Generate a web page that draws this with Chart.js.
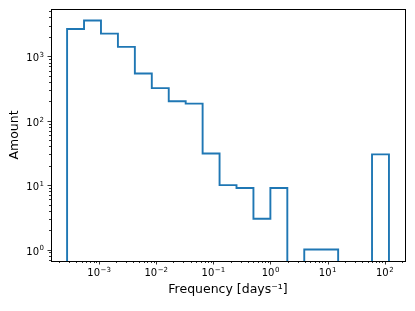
<!DOCTYPE html>
<html>
<head>
<meta charset="utf-8">
<script src="https://cdn.jsdelivr.net/npm/chart.js@4.4.1/dist/chart.umd.min.js"></script>
<style>
  html, body { margin: 0; padding: 0; background: #fff; }
  #chart { display: block; }
</style>
</head>
<body>
<canvas id="chart" width="415" height="311"></canvas>
<script>
// Histogram bin edges (days^-1), log spaced
const binEdges = [
  2.754e-4, 5.452e-4, 1.079e-3, 2.136e-3, 4.227e-3, 8.366e-3, 1.656e-2,
  3.278e-2, 6.486e-2, 0.1284, 0.2541, 0.5029, 0.9954, 1.970, 3.899,
  7.718, 15.28, 30.23, 59.84, 118.4,
];

// Counts per bin
const binCounts = [
  2650, 3600, 2250, 1400, 540, 320, 200, 184, 31, 10, 9, 3, 9, 0, 1, 1, 0, 0, 30,
];

// Major ticks: value and exponent label
const xMajorTicks = [1e-3, 1e-2, 1e-1, 1e0, 1e1, 1e2];
const xTickExps = ["−3", "−2", "−1", "0", "1", "2"];
const yMajorTicks = [1e0, 1e1, 1e2, 1e3];
const yTickExps = ["0", "1", "2", "3"];

// Axis limits
const X_MIN = 1.44e-4;
const X_MAX = 226;
const Y_MIN = 0.664;
const Y_MAX = 5420;

const FONT = "DejaVu Sans";

// Step outline of the histogram, zero bins drop below the axis
function stepPoints() {
  const floor = Y_MIN / 100;
  const pts = [{ x: binEdges[0], y: floor }];
  binCounts.forEach((c, i) => {
    const y = c > 0 ? c : floor;
    pts.push({ x: binEdges[i], y: y });
    pts.push({ x: binEdges[i + 1], y: y });
  });
  pts.push({ x: binEdges[binEdges.length - 1], y: floor });
  return pts;
}

function minorValues(min, max) {
  const out = [];
  for (let e = Math.floor(Math.log10(min)); e <= Math.ceil(Math.log10(max)); e++) {
    for (let m = 2; m <= 9; m++) {
      const v = m * Math.pow(10, e);
      if (v >= min && v <= max) out.push(v);
    }
  }
  return out;
}

// draw "10" with a raised exponent; align: 'center' or 'right'
function drawPow(ctx, exp, x, baseline, align) {
  ctx.font = `10px "${FONT}"`;
  const wBase = ctx.measureText("10").width;
  ctx.font = `7px "${FONT}"`;
  const wExp = ctx.measureText(exp).width;
  const total = wBase + 0.5 + wExp;
  const x0 = align === "center" ? x - total / 2 : x - total;
  ctx.textAlign = "left";
  ctx.textBaseline = "alphabetic";
  ctx.font = `10px "${FONT}"`;
  ctx.fillText("10", x0, baseline);
  ctx.font = `7px "${FONT}"`;
  ctx.fillText(exp, x0 + wBase + 0.5, baseline - 4.2);
}

// Frame, tick marks and tick labels, matplotlib style
const framePlugin = {
  id: "frame",
  afterDraw(chart) {
    const { ctx, chartArea: a } = chart;
    const xs = chart.scales.x;
    const ys = chart.scales.y;
    ctx.save();
    ctx.strokeStyle = "#000";
    ctx.lineWidth = 0.8;
    ctx.beginPath();
    xMajorTicks.forEach((v) => {
      const px = Math.round(xs.getPixelForValue(v)) + 0.5;
      ctx.moveTo(px, a.bottom);
      ctx.lineTo(px, a.bottom + 3.5);
    });
    minorValues(X_MIN, X_MAX).forEach((v) => {
      const px = Math.round(xs.getPixelForValue(v)) + 0.5;
      ctx.moveTo(px, a.bottom);
      ctx.lineTo(px, a.bottom + 2);
    });
    yMajorTicks.forEach((v) => {
      const py = Math.round(ys.getPixelForValue(v)) + 0.5;
      ctx.moveTo(a.left, py);
      ctx.lineTo(a.left - 3.5, py);
    });
    minorValues(Y_MIN, Y_MAX).forEach((v) => {
      const py = Math.round(ys.getPixelForValue(v)) + 0.5;
      ctx.moveTo(a.left, py);
      ctx.lineTo(a.left - 2, py);
    });
    ctx.stroke();
    ctx.lineWidth = 1;
    ctx.strokeRect(a.left + 0.5, a.top + 0.5, a.right - a.left, a.bottom - a.top);

    ctx.fillStyle = "#000";
    xMajorTicks.forEach((v, i) => {
      drawPow(ctx, xTickExps[i], xs.getPixelForValue(v), a.bottom + 15, "center");
    });
    yMajorTicks.forEach((v, i) => {
      drawPow(ctx, yTickExps[i], a.left - 7, ys.getPixelForValue(v) + 5, "right");
    });
    ctx.restore();
  },
};

document.addEventListener("DOMContentLoaded", () => {
  const ctx = document.getElementById("chart").getContext("2d");
  new Chart(ctx, {
    type: "line",
    data: {
      datasets: [
        {
          data: stepPoints(),
          borderColor: "#1f77b4",
          borderWidth: 1.9,
          pointRadius: 0,
          tension: 0,
          fill: false,
          clip: 0,
        },
      ],
    },
    options: {
      responsive: false,
      animation: false,
      layout: { padding: { top: 9, right: 10, left: 0, bottom: 0 } },
      plugins: {
        legend: { display: false },
        tooltip: { enabled: false },
      },
      scales: {
        x: {
          type: "logarithmic",
          min: X_MIN,
          max: X_MAX,
          grid: { display: false },
          border: { display: false },
          ticks: { display: false },
          afterFit: (scale) => {
            scale.height = 50;
          },
          title: {
            display: true,
            text: "Frequency [days⁻¹]",
            color: "#000",
            font: { family: FONT, size: 12.5 },
            padding: { top: 0, bottom: 14 },
          },
        },
        y: {
          type: "logarithmic",
          min: Y_MIN,
          max: Y_MAX,
          grid: { display: false },
          border: { display: false },
          ticks: { display: false },
          afterFit: (scale) => {
            scale.width = 51;
          },
          title: {
            display: true,
            text: "Amount",
            color: "#000",
            font: { family: FONT, size: 12.5 },
            padding: { top: 7, bottom: 0 },
          },
        },
      },
    },
    plugins: [framePlugin],
  });
});
</script>
</body>
</html>
